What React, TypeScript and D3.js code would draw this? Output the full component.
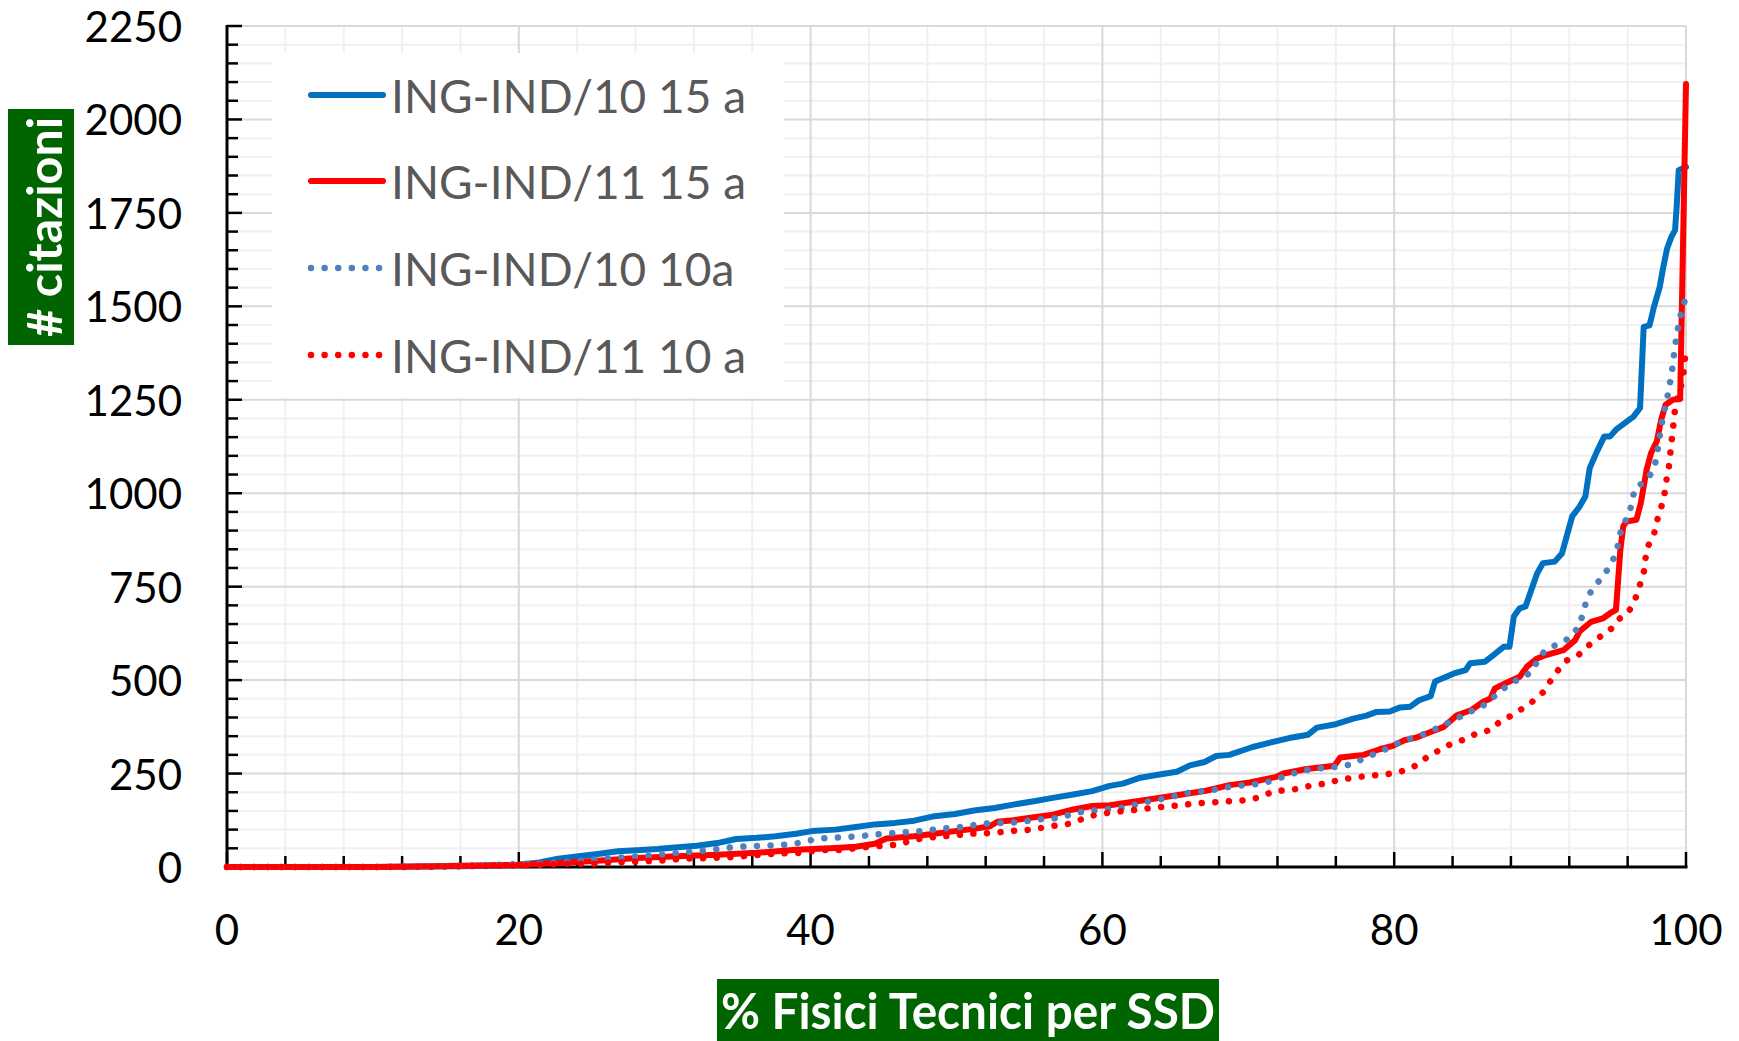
import React from "react";
import * as d3 from "d3";

// ---- Data (percentile of Fisici Tecnici, # citations) ----
const ing10_15a: [number, number][] = [
  [0, 0], [10, 0], [16, 2], [20, 6], [21.4, 12], [22.7, 22], [24.1, 29], [25.4, 35], [26.8, 42], [28.1, 45],
  [29.5, 48], [30.9, 53], [32.2, 57], [33.6, 64], [34.9, 75], [36.3, 78], [37.6, 82], [39.0, 89], [40.1, 96],
  [41.7, 100], [43.1, 107], [44.4, 114], [45.8, 118], [47.1, 124], [48.5, 136], [49.9, 142], [51.2, 151],
  [52.6, 158], [53.9, 167], [55.3, 176], [56.6, 185], [58.0, 194], [59.3, 203], [60.5, 217], [61.4, 223],
  [62.6, 239], [63.7, 246], [65.1, 255], [66.0, 272], [67.0, 281], [67.8, 297], [68.7, 300], [70.3, 321],
  [71.5, 333], [72.8, 345], [74.1, 354], [74.7, 373], [76.0, 382], [77.2, 397], [78.1, 405], [78.8, 415],
  [79.7, 416], [80.4, 427], [81.1, 429], [81.7, 446], [82.5, 457], [82.8, 496], [84.1, 518], [84.9, 527],
  [85.2, 545], [86.2, 549], [86.8, 567], [87.5, 589], [87.9, 589], [88.2, 670], [88.6, 692], [89.0, 697],
  [89.8, 786], [90.2, 813], [91.0, 817], [91.5, 839], [92.2, 938], [92.7, 964], [93.1, 991], [93.4, 1067],
  [93.9, 1112], [94.4, 1152], [94.8, 1152], [95.2, 1170], [96.4, 1205], [96.85, 1228], [97.1, 1445],
  [97.5, 1449], [97.8, 1498], [98.2, 1552], [98.4, 1596], [98.7, 1654], [99.0, 1686], [99.25, 1704],
  [99.36, 1766], [99.5, 1864], [100, 1873],
];

const ing11_15a: [number, number][] = [
  [0, 0], [10, 0], [14, 2], [17, 4], [20, 6], [22.7, 11], [25.4, 17], [28.1, 24], [30.9, 29], [33.6, 33],
  [36.3, 38], [39.0, 46], [41.7, 51], [43.1, 54], [44.4, 62], [45.2, 76], [45.8, 78], [47.1, 82], [48.5, 89],
  [49.9, 96], [51.2, 102], [52.3, 109], [52.8, 121], [53.9, 125], [55.3, 133], [56.6, 140], [58.0, 154],
  [59.3, 163], [60.5, 165], [62.6, 177], [65.1, 192], [67.1, 204], [68.7, 219], [70.1, 226], [71.9, 241],
  [72.4, 250], [74.0, 262], [75.9, 271], [76.3, 293], [77.9, 300], [79.0, 315], [79.9, 324], [80.7, 339],
  [81.5, 346], [82.4, 360], [83.4, 375], [84.3, 406], [85.3, 420], [86.1, 442], [86.6, 451], [86.9, 478],
  [87.7, 493], [88.6, 509], [89.1, 536], [89.8, 558], [90.4, 567], [91.6, 580], [92.4, 607], [92.7, 630],
  [93.5, 656], [94.3, 665], [94.8, 679], [95.2, 688], [95.5, 848], [95.7, 911], [95.9, 924], [96.6, 929],
  [96.9, 973], [97.3, 1063], [97.6, 1107], [98.0, 1139], [98.3, 1197], [98.6, 1237], [99.1, 1250],
  [99.6, 1252], [100, 2095],
];

const ing10_10a: [number, number][] = [
  [0, 0], [10, 0], [16, 3], [20, 8], [22.7, 11], [25.4, 21], [27.3, 26], [29.2, 31], [31.1, 38], [33.0, 45],
  [34.9, 54], [36.8, 57], [38.6, 60], [39.5, 67], [40.5, 76], [41.4, 78], [43.2, 82], [45.1, 89], [47.0, 94],
  [47.9, 97], [48.9, 103], [49.9, 105], [50.7, 109], [51.6, 115], [52.6, 118], [53.5, 118], [54.5, 121],
  [55.4, 127], [56.4, 129], [57.2, 132], [58.1, 145], [59.0, 149], [60.0, 154], [60.9, 156], [61.8, 161],
  [62.7, 172], [63.7, 179], [64.6, 186], [65.5, 196], [66.4, 202], [67.3, 204], [68.2, 211], [69.1, 217],
  [70.1, 220], [71.0, 223], [71.9, 235], [72.8, 246], [73.6, 257], [74.6, 263], [75.5, 266], [76.4, 269],
  [77.3, 277], [78.1, 296], [79.0, 306], [79.8, 324], [80.7, 338], [81.6, 350], [82.5, 362], [83.3, 380],
  [84.2, 393], [84.9, 413], [85.8, 422], [86.5, 445], [87.2, 467], [87.9, 491], [88.8, 506], [89.5, 525],
  [89.9, 560], [90.5, 585], [91.4, 598], [92.2, 618], [92.7, 649], [93.0, 685], [93.2, 719], [93.7, 750],
  [94.3, 777], [94.8, 806], [95.2, 839], [95.4, 874], [95.6, 911], [96.1, 942], [96.3, 978], [96.5, 1014],
  [97.2, 1031], [97.7, 1058], [98.0, 1094], [98.1, 1130], [98.25, 1165], [98.4, 1201], [98.6, 1237],
  [98.8, 1271], [98.95, 1306], [99.1, 1344], [99.2, 1380], [99.35, 1418], [99.5, 1454], [99.7, 1489],
  [100, 1525],
];

const ing11_10a: [number, number][] = [
  [0, 0], [12, 0], [16, 2], [19.7, 4], [21.6, 6], [23.5, 9], [25.4, 9], [26.4, 12], [28.3, 15], [30.2, 18],
  [31.1, 22], [33.0, 24], [34.8, 27], [35.7, 30], [36.7, 33], [37.6, 36], [39.5, 38], [40.5, 45], [42.3, 46],
  [43.2, 51], [44.2, 55], [45.1, 57], [46.1, 60], [47.0, 73], [48.0, 78], [48.9, 82], [49.9, 84], [50.7, 89],
  [52.6, 91], [53.5, 96], [55.3, 100], [56.3, 109], [57.2, 112], [58.0, 118], [59.0, 135], [59.8, 141],
  [60.7, 147], [61.6, 150], [62.6, 154], [63.5, 159], [64.4, 162], [65.3, 165], [66.3, 170], [67.2, 172],
  [69.1, 177], [70.0, 179], [70.9, 188], [71.8, 204], [72.7, 205], [73.6, 211], [74.5, 220], [75.4, 223],
  [76.3, 235], [77.2, 238], [78.1, 244], [79.0, 246], [80.0, 251], [80.9, 260], [81.7, 276], [82.4, 299],
  [83.2, 314], [84.0, 332], [84.9, 342], [85.7, 359], [86.6, 366], [87.3, 391], [88.1, 406], [88.9, 427],
  [89.6, 446], [90.3, 471], [90.7, 497], [91.2, 525], [91.8, 552], [92.6, 566], [93.3, 592], [94.0, 613],
  [94.8, 634], [95.4, 663], [96.1, 685], [96.5, 714], [96.8, 750], [97.1, 786], [97.2, 821], [97.4, 859],
  [97.8, 889], [98.0, 924], [98.2, 951], [98.5, 987], [98.6, 1025], [98.8, 1061], [98.9, 1098], [99.0, 1134],
  [99.1, 1170], [99.2, 1208], [99.3, 1241], [99.6, 1275], [99.8, 1311], [99.9, 1348], [100, 1386],
];

const seriesNames = ["ING-IND/10 15 a", "ING-IND/11 15 a", "ING-IND/10 10a", "ING-IND/11 10 a"];
const xTickLabels = [0, 20, 40, 60, 80, 100];
const yTickLabels = [0, 250, 500, 750, 1000, 1250, 1500, 1750, 2000, 2250];
const xTitle = "% Fisici Tecnici per SSD";
const yTitle = "# citazioni";

const W = 1739;
const H = 1041;
const M = { left: 227, right: 1686, top: 26, bottom: 867 };
const FONT = "Lato, 'Open Sans', sans-serif";

export default function App() {
  const x = d3.scaleLinear().domain([0, 100]).range([M.left, M.right]);
  const y = d3.scaleLinear().domain([0, 2250]).range([M.bottom, M.top]);
  const line = d3
    .line<[number, number]>()
    .x((d) => x(d[0]))
    .y((d) => y(d[1]));

  const series = [
    { name: seriesNames[0], data: ing10_15a, color: "#0070C0", dotted: false },
    { name: seriesNames[1], data: ing11_15a, color: "#FF0000", dotted: false },
    { name: seriesNames[2], data: ing10_10a, color: "#4F81BD", dotted: true },
    { name: seriesNames[3], data: ing11_10a, color: "#FF0000", dotted: true },
  ];

  const yMinor = d3.range(0, 2251, 50);
  const xMinor = d3.range(0, 100.01, 4);
  const xMajor = d3.range(0, 100.01, 20);

  const legendRows = [95, 181, 268, 355];

  return (
    <svg
      width={W}
      height={H}
      viewBox={`0 0 ${W} ${H}`}
      style={{ position: "absolute", left: 0, top: 0, display: "block", background: "#fff" }}
    >
      {/* minor grid */}
      {yMinor.filter((v) => v % 250 !== 0).map((v) => (
        <line key={"hy" + v} x1={M.left} x2={M.right} y1={y(v)} y2={y(v)} stroke="#F0F0F0" strokeWidth={2} />
      ))}
      {xMinor.filter((v) => v % 20 !== 0).map((v) => (
        <line key={"vx" + v} x1={x(v)} x2={x(v)} y1={M.top} y2={M.bottom} stroke="#F0F0F0" strokeWidth={2} />
      ))}
      {/* major grid */}
      {yTickLabels.map((v) => (
        <line key={"Hy" + v} x1={M.left} x2={M.right} y1={y(v)} y2={y(v)} stroke="#D9D9D9" strokeWidth={2} />
      ))}
      {xMajor.map((v) => (
        <line key={"Vx" + v} x1={x(v)} x2={x(v)} y1={M.top} y2={M.bottom} stroke="#D9D9D9" strokeWidth={2} />
      ))}

      {/* legend background */}
      <rect x={272} y={53} width={512} height={345} fill="#FFFFFF" />

      {/* axes */}
      <line x1={M.left} x2={M.left} y1={M.top - 1} y2={M.bottom + 1.5} stroke="#000" strokeWidth={3} />
      <line x1={M.left - 1.5} x2={M.right + 1.5} y1={M.bottom} y2={M.bottom} stroke="#000" strokeWidth={3} />
      {yMinor.map((v) => (
        <line
          key={"ty" + v}
          x1={M.left}
          x2={M.left + (v % 250 === 0 ? 15 : 11)}
          y1={y(v)}
          y2={y(v)}
          stroke="#000"
          strokeWidth={2.5}
        />
      ))}
      {xMinor.map((v) => (
        <line
          key={"tx" + v}
          x1={x(v)}
          x2={x(v)}
          y1={M.bottom}
          y2={M.bottom - (v % 20 === 0 ? 15 : 11)}
          stroke="#000"
          strokeWidth={2.5}
        />
      ))}

      {/* series */}
      {series.map((s, i) => (
        <path
          key={"s" + i}
          d={line(s.data) || ""}
          fill="none"
          stroke={s.color}
          strokeWidth={s.dotted ? 6.5 : 6}
          strokeLinecap="round"
          strokeLinejoin="round"
          strokeDasharray={s.dotted ? "0.01 13.6" : undefined}
        />
      ))}

      {/* tick labels */}
      {yTickLabels.map((v) => (
        <text
          key={"ly" + v}
          x={182}
          y={y(v)}
          textAnchor="end"
          dominantBaseline="central"
          fontFamily={FONT}
          fontSize={42}
          fill="#000"
        >
          {v}
        </text>
      ))}
      {xTickLabels.map((v) => (
        <text
          key={"lx" + v}
          x={x(v)}
          y={929}
          textAnchor="middle"
          dominantBaseline="central"
          fontFamily={FONT}
          fontSize={42}
          fill="#000"
        >
          {v}
        </text>
      ))}

      {/* legend */}
      {series.map((s, i) => (
        <g key={"lg" + i}>
          <line
            x1={311}
            x2={383}
            y1={legendRows[i]}
            y2={legendRows[i]}
            stroke={s.color}
            strokeWidth={s.dotted ? 6.5 : 6}
            strokeLinecap="round"
            strokeDasharray={s.dotted ? "0.01 13.6" : undefined}
          />
          <text
            x={391}
            y={legendRows[i]}
            dominantBaseline="central"
            fontFamily={FONT}
            fontSize={46}
            fill="#595959"
          >
            {s.name}
          </text>
        </g>
      ))}

      {/* y title */}
      <rect x={8} y={109} width={66} height={236} fill="#006400" />
      <text
        transform={`translate(43, 227) rotate(-90)`}
        textAnchor="middle"
        dominantBaseline="central"
        fontFamily={FONT}
        fontWeight="bold"
        fontSize={48}
        fill="#FFFFFF"
        textLength={220}
        lengthAdjust="spacingAndGlyphs"
      >
        {yTitle}
      </text>

      {/* x title */}
      <rect x={717} y={979} width={502} height={62} fill="#006400" />
      <text
        x={968}
        y={1010}
        textAnchor="middle"
        dominantBaseline="central"
        fontFamily={FONT}
        fontWeight="bold"
        fontSize={50}
        fill="#FFFFFF"
        textLength={494}
        lengthAdjust="spacingAndGlyphs"
      >
        {xTitle}
      </text>
    </svg>
  );
}
